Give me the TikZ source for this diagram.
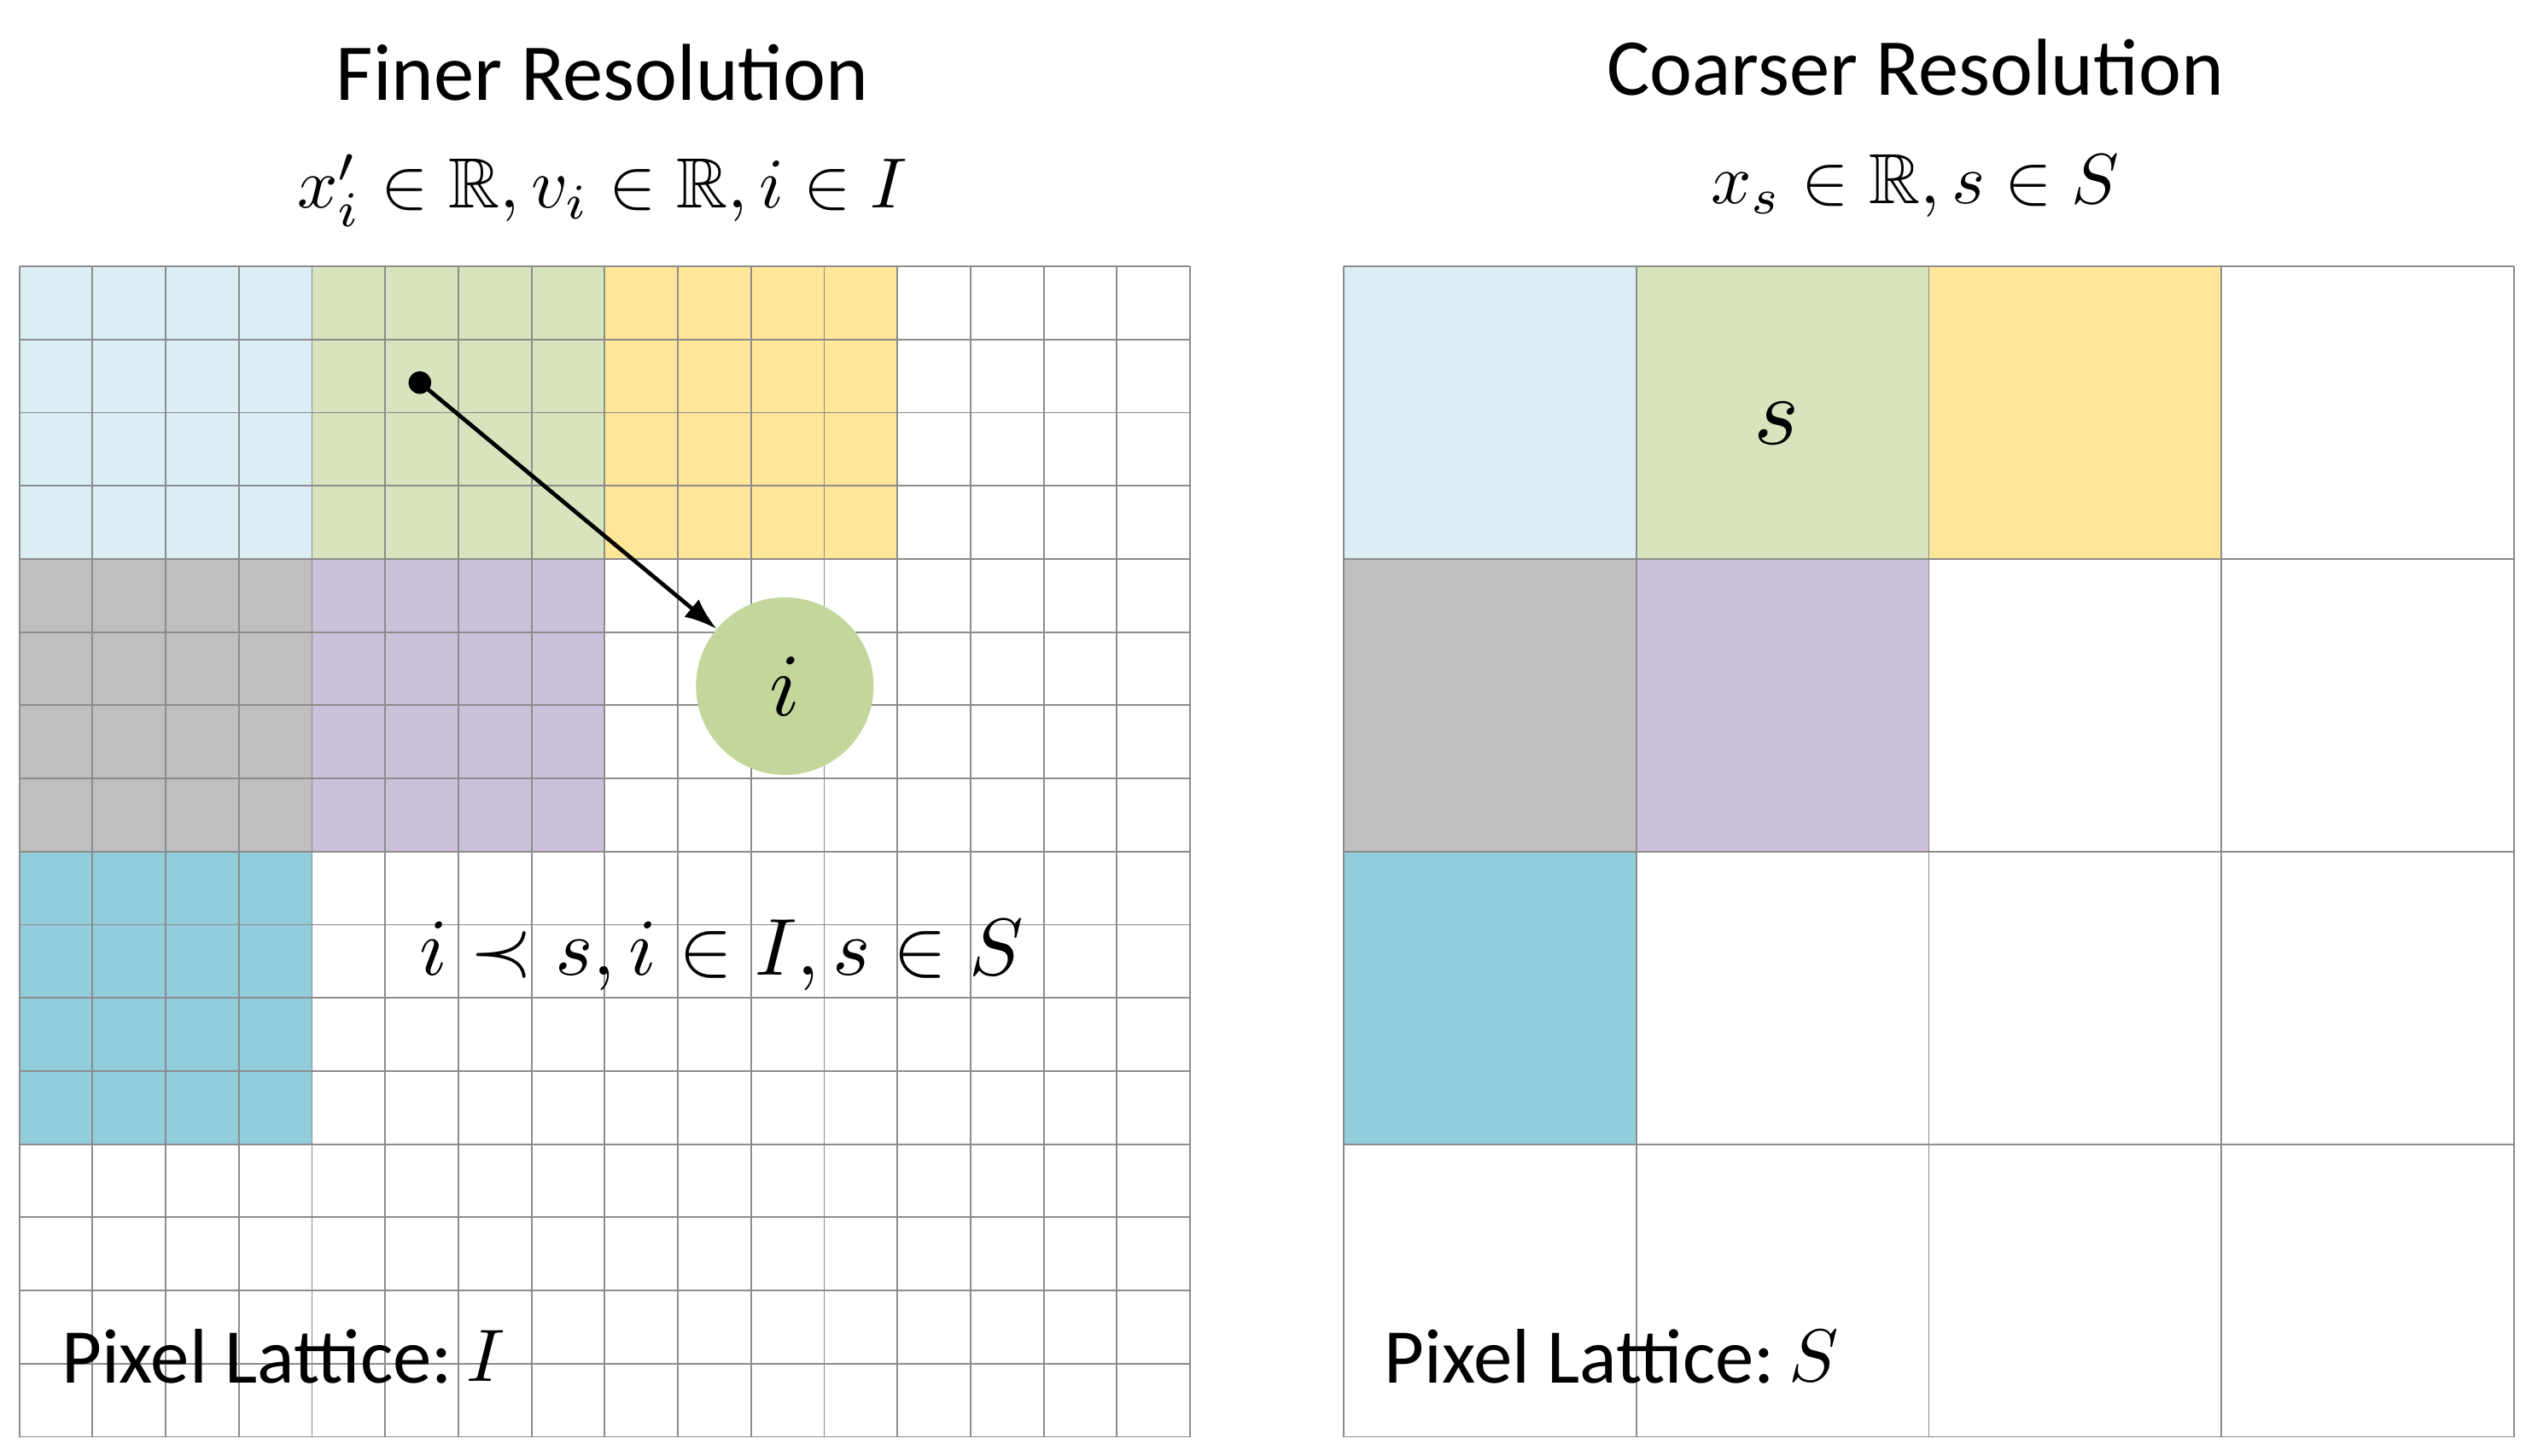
\documentclass[tikz,border=0pt]{standalone}
\usepackage{amssymb}
\usepackage{fontspec}
\setmainfont{Carlito}
\usetikzlibrary{arrows.meta}
\begin{document}
\begin{tikzpicture}[x=1pt,y=-1pt,
  gl/.style={draw=black!45,line width=1pt},
  txt/.style={inner sep=0pt}]
\useasboundingbox (0,0) rectangle (1568,901.4);
\definecolor{cb}{HTML}{DAEEF3}\definecolor{cg}{HTML}{D7E4BD}
\definecolor{cy}{HTML}{FFE699}\definecolor{cgr}{HTML}{BFBFBF}
\definecolor{cp}{HTML}{CCC1DA}\definecolor{ct}{HTML}{92CDDC}
\definecolor{cc}{HTML}{C3D69B}
% left grid
\def\L{12}\def\T{165}\def\c{45.3125}
\fill[cb] (\L,\T) rectangle ++(4*\c,4*\c);
\fill[cg] (\L+4*\c,\T) rectangle ++(4*\c,4*\c);
\fill[cy] (\L+8*\c,\T) rectangle ++(4*\c,4*\c);
\fill[cgr] (\L,\T+4*\c) rectangle ++(4*\c,4*\c);
\fill[cp] (\L+4*\c,\T+4*\c) rectangle ++(4*\c,4*\c);
\fill[ct] (\L,\T+8*\c) rectangle ++(4*\c,4*\c);
\foreach \k in {0,...,16}{
  \draw[gl] (\L+\k*\c,\T) -- (\L+\k*\c,\T+16*\c);
  \draw[gl] (\L,\T+\k*\c) -- (\L+16*\c,\T+\k*\c);}
% right grid
\def\R{832}\def\C{181.25}
\fill[cb] (\R,\T) rectangle ++(\C,\C);
\fill[cg] (\R+\C,\T) rectangle ++(\C,\C);
\fill[cy] (\R+2*\C,\T) rectangle ++(\C,\C);
\fill[cgr] (\R,\T+\C) rectangle ++(\C,\C);
\fill[cp] (\R+\C,\T+\C) rectangle ++(\C,\C);
\fill[ct] (\R,\T+2*\C) rectangle ++(\C,\C);
\foreach \k in {0,...,4}{
  \draw[gl] (\R+\k*\C,\T) -- (\R+\k*\C,\T+4*\C);
  \draw[gl] (\R,\T+\k*\C) -- (\R+4*\C,\T+\k*\C);}
% circle and arrow
\node[circle,fill=cc,minimum size=110pt,inner sep=0pt] (i) at (486,425) {};
\node[txt,scale=5.5] (il) at (i) {$i$};
\fill (260,237) circle (7);
\coordinate (d) at (260,237);
\draw[line width=2.5pt,-{Latex[length=20pt,width=14pt]}] (d) -- (i.140);
% texts
\node[txt,font=\fontsize{50}{58}\selectfont] (t1) at (373,45) {Finer Resolution};
\node[txt,scale=4.4] (m1) at (373,118) {$x_i'\in\mathbb{R}, v_i\in\mathbb{R}, i\in I$};
\node[txt,font=\fontsize{50}{58}\selectfont] (t2) at (1186,42) {Coarser Resolution};
\node[txt,scale=4.4] (m2) at (1186,115) {$x_s\in\mathbb{R}, s\in S$};
\node[txt,scale=6] (s) at (1100,262) {$s$};
\node[txt,scale=5] (rel) at (447,592) {$i\prec s, i\in I, s\in S$};
\node[txt,anchor=west,font=\fontsize{48}{56}\selectfont] (p1) at (38,840) {Pixel Lattice:};
\node[txt,anchor=west,scale=4.6] (p1m) at (p1.east) {\,$I$};
\node[txt,anchor=west,font=\fontsize{48}{56}\selectfont] (p2) at (857,840) {Pixel Lattice:};
\node[txt,anchor=west,scale=4.6] (p2m) at (p2.east) {\,$S$};
\end{tikzpicture}
\end{document}
